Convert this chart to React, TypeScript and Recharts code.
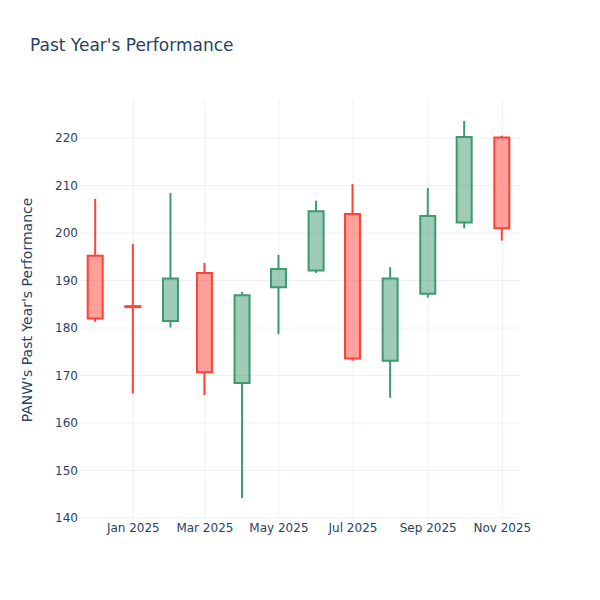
import { ComposedChart, Bar, XAxis, YAxis, CartesianGrid } from 'recharts'

const months = [
  '2024-12-01', '2025-01-01', '2025-02-01', '2025-03-01', '2025-04-01', '2025-05-01',
  '2025-06-01', '2025-07-01', '2025-08-01', '2025-09-01', '2025-10-01', '2025-11-01'
]
const openPrices = [195.2, 184.6, 181.5, 191.6, 168.4, 188.6, 192.1, 204.0, 173.1, 187.2, 202.2, 220.1]
const highPrices = [207.2, 197.7, 208.4, 193.7, 187.6, 195.4, 206.8, 210.3, 192.8, 209.5, 223.6, 220.5]
const lowPrices = [181.3, 166.2, 180.1, 165.9, 144.2, 178.7, 191.6, 173.1, 165.3, 186.4, 201.0, 198.4]
const closePrices = [182.0, 184.4, 190.4, 170.7, 186.9, 192.4, 204.6, 173.6, 190.4, 203.6, 220.2, 201.0]

const xTickDates = ['2025-01-01', '2025-03-01', '2025-05-01', '2025-07-01', '2025-09-01', '2025-11-01']
const xTickLabels = ['Jan 2025', 'Mar 2025', 'May 2025', 'Jul 2025', 'Sep 2025', 'Nov 2025']
const yTicks = [140, 150, 160, 170, 180, 190, 200, 210, 220]

const toTime = (s: string) => new Date(s + 'T00:00:00Z').getTime()

const data = months.map((m, i) => ({
  t: toTime(m),
  open: openPrices[i],
  high: highPrices[i],
  low: lowPrices[i],
  close: closePrices[i]
}))

const xTicks = xTickDates.map(toTime)
const xDomain = [toTime('2024-11-18') + 2 * 3600e3, toTime('2025-11-15') + 14 * 3600e3]

const INC = '#3D9970'
const DEC = '#FF4136'
const GRID = '#EBF0F8'
const TEXT = '#2a3f5f'
const FONT = 'DejaVu Sans, sans-serif'

function Candle(props: any) {
  const { x, y, width, height, payload } = props
  if (!payload || height == null) return null
  const { open, high, low, close } = payload
  const top = Math.min(y, y + height)
  const h = Math.abs(height)
  const k = h / (high - low)
  const yO = top + (high - open) * k
  const yC = top + (high - close) * k
  const up = close >= open
  const color = up ? INC : DEC
  const fill = up ? 'rgba(61,153,112,0.5)' : 'rgba(255,65,54,0.5)'
  const bTop = Math.min(yO, yC)
  const bBot = Math.max(yO, yC)
  const cx = x + width / 2
  return (
    <g>
      <line x1={cx} y1={top} x2={cx} y2={bTop} stroke={color} strokeWidth={2} />
      <line x1={cx} y1={bBot} x2={cx} y2={top + h} stroke={color} strokeWidth={2} />
      <path
        d={`M${x},${bTop}H${x + width}V${bBot}H${x}Z`}
        fill={fill}
        stroke={color}
        strokeWidth={2}
      />
    </g>
  )
}

export default function App() {
  return (
    <div style={{ position: 'absolute', left: 0, top: 0, width: 600, height: 600, background: '#fff' }}>
      <ComposedChart
        width={600}
        height={600}
        data={data}
        margin={{ top: 100, right: 80, bottom: 52, left: 20 }}
      >
        <CartesianGrid stroke={GRID} strokeWidth={1} syncWithTicks />
        <XAxis
          dataKey="t"
          type="number"
          domain={xDomain}
          ticks={xTicks}
          tickFormatter={(v: number) => xTickLabels[xTicks.indexOf(v)] ?? ''}
          axisLine={false}
          tickLine={false}
          tickSize={0}
          tickMargin={5}
          height={30}
          tick={{ fill: TEXT, fontSize: 12, fontFamily: FONT }}
        />
        <YAxis
          type="number"
          domain={[140, 228]}
          ticks={yTicks}
          axisLine={false}
          tickLine={false}
          tickSize={0}
          tickMargin={2}
          width={60}
          tick={{ fill: TEXT, fontSize: 12, fontFamily: FONT }}
        />
        <Bar
          dataKey={(d: any) => [d.low, d.high]}
          barSize={15}
          shape={Candle}
          isAnimationActive={false}
        />
      </ComposedChart>
      <svg
        width={600}
        height={600}
        style={{ position: 'absolute', left: 0, top: 0, pointerEvents: 'none' }}
      >
        <text x={30} y={51} fill={TEXT} fontSize={17} fontFamily={FONT}>
          Past Year's Performance
        </text>
        <text
          x={27}
          y={310}
          fill={TEXT}
          fontSize={14}
          fontFamily={FONT}
          textAnchor="middle"
          dominantBaseline="central"
          transform="rotate(-90 27 310)"
        >
          PANW's Past Year's Performance
        </text>
      </svg>
    </div>
  )
}
